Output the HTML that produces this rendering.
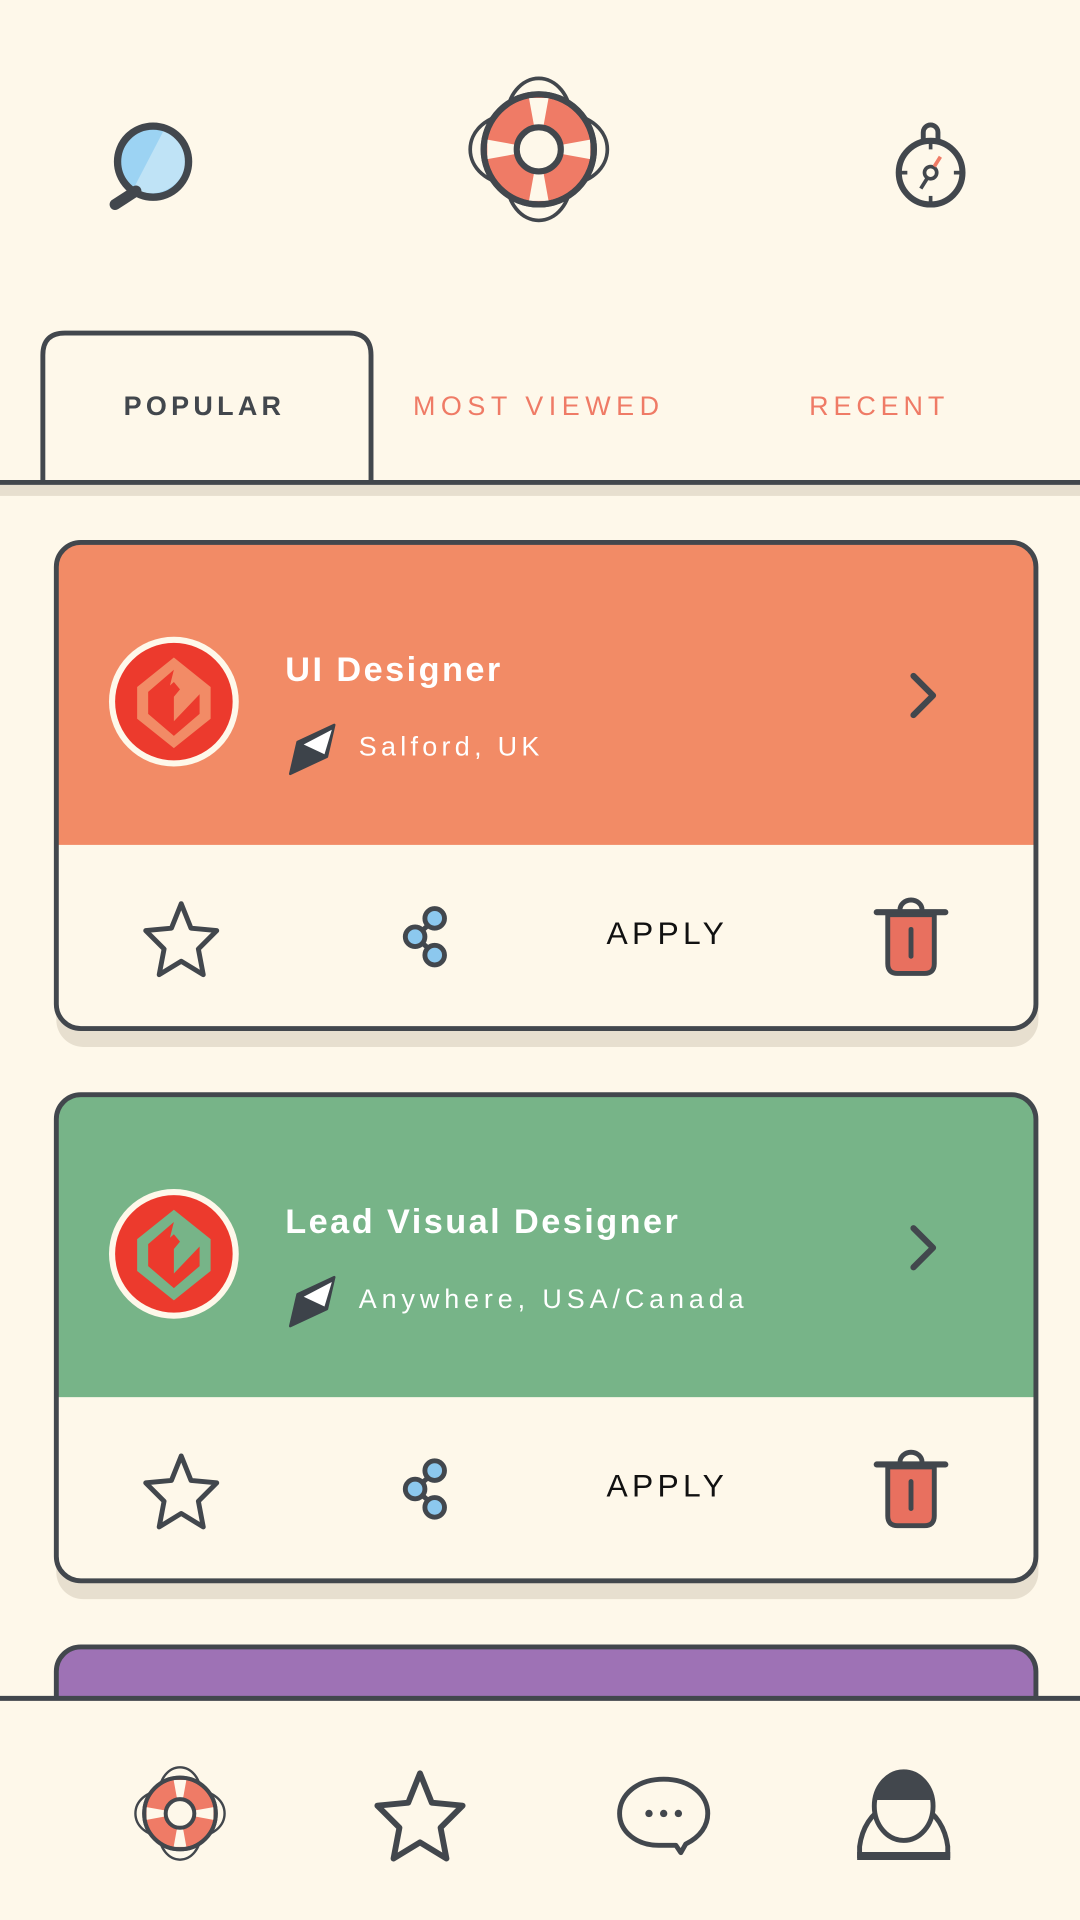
<!DOCTYPE html>
<html><head><meta charset="utf-8"><style>
html,body{margin:0;padding:0;background:#fef8ea;}
svg{display:block}
text{font-family:"Liberation Sans",sans-serif;}
</style></head><body>
<svg width="1080" height="1920" viewBox="0 0 882 1568" xmlns="http://www.w3.org/2000/svg">
<defs>
<g id="buoy">
 <ellipse cx="0" cy="-26" rx="26" ry="32" fill="none" stroke="#42474d" stroke-width="3"/>
 <ellipse cx="0" cy="26" rx="26" ry="32" fill="none" stroke="#42474d" stroke-width="3"/>
 <ellipse cx="-24" cy="0" rx="32" ry="28" fill="none" stroke="#42474d" stroke-width="3"/>
 <ellipse cx="24" cy="0" rx="32" ry="28" fill="none" stroke="#42474d" stroke-width="3"/>
 <circle r="45" fill="#ef7b66" stroke="#42474d" stroke-width="5"/>
 <path d="M-8,-42 L8,-42 L4,-20 L-4,-20Z M-8,42 L8,42 L4,20 L-4,20Z M-42,-8 L-42,8 L-20,4 L-20,-4Z M42,-8 L42,8 L20,4 L20,-4Z" fill="#fef8ea"/>
 <circle r="45" fill="none" stroke="#42474d" stroke-width="5"/>
 <circle r="18" fill="#fef8ea" stroke="#42474d" stroke-width="5"/>
</g>
<g id="star">
 <path d="M0,-29 L8,-9 L29,-7 L14,8 L18,29 L0,18 L-18,29 L-14,8 L-29,-7 L-8,-9Z" fill="none" stroke="#42474d" stroke-width="4" stroke-linejoin="round"/>
</g>
<g id="share">
 <line x1="8" y1="-14" x2="-8" y2="0" stroke="#42474d" stroke-width="4"/>
 <line x1="-8" y1="0" x2="8" y2="14" stroke="#42474d" stroke-width="4"/>
 <circle cx="8" cy="-15" r="8" fill="#8cc8ee" stroke="#42474d" stroke-width="4"/>
 <circle cx="-8" cy="0" r="8" fill="#8cc8ee" stroke="#42474d" stroke-width="4"/>
 <circle cx="8" cy="15" r="8" fill="#8cc8ee" stroke="#42474d" stroke-width="4"/>
</g>
<g id="trash">
 <path d="M-9,-24 a9,8 0 0 1 18,0" fill="none" stroke="#42474d" stroke-width="4"/>
 <line x1="-28" y1="-22" x2="28" y2="-22" stroke="#42474d" stroke-width="5" stroke-linecap="round"/>
 <path d="M-19,-20 L19,-20 L19,20 Q19,28 11,28 L-11,28 Q-19,28 -19,20Z" fill="#e8705f" stroke="#42474d" stroke-width="4"/>
 <line x1="0" y1="-8" x2="0" y2="14" stroke="#42474d" stroke-width="4" stroke-linecap="round"/>
</g>
<g id="loc">
 <path d="M-18,20 L-12,-6 L18,-20 L12,6 Z" fill="#3d434a" stroke="#3d434a" stroke-width="2" stroke-linejoin="round"/>
 <path d="M-7,-4 L16,-16 L10,4 Z" fill="#fff"/>
</g>
</defs>

<!-- header icons -->
<circle cx="125" cy="132" r="29" fill="#9cd3f3"/>
<path d="M134,106 L109,154 A29,29 0 0 0 152,134 A29,29 0 0 0 134,106Z" fill="#bfe3f6"/>
<circle cx="125" cy="132" r="29" fill="none" stroke="#42474d" stroke-width="6"/>
<line x1="111" y1="156" x2="94" y2="167" stroke="#42474d" stroke-width="9" stroke-linecap="round"/>

<use href="#buoy" x="440" y="122"/>

<circle cx="760" cy="141" r="26" fill="none" stroke="#42474d" stroke-width="5"/>
<path d="M754,116 L754,108 a6,6 0 0 1 12,0 L766,116" fill="none" stroke="#42474d" stroke-width="4"/>
<line x1="760" y1="115" x2="760" y2="122" stroke="#42474d" stroke-width="3"/>
<line x1="760" y1="160" x2="760" y2="167" stroke="#42474d" stroke-width="3"/>
<line x1="734" y1="141" x2="741" y2="141" stroke="#42474d" stroke-width="3"/>
<line x1="779" y1="141" x2="786" y2="141" stroke="#42474d" stroke-width="3"/>
<circle cx="760" cy="141" r="5" fill="none" stroke="#42474d" stroke-width="3"/>
<line x1="763" y1="136" x2="768" y2="128" stroke="#ef7b66" stroke-width="3"/>
<line x1="757" y1="146" x2="752" y2="154" stroke="#42474d" stroke-width="3"/>

<!-- tabs -->
<rect x="0" y="396" width="882" height="9" fill="#e7dfcf"/>
<path d="M35,394 L35,290 Q35,272 53,272 L285,272 Q303,272 303,290 L303,394" fill="#fef8ea" stroke="#42474d" stroke-width="4"/>
<line x1="0" y1="394" x2="882" y2="394" stroke="#42474d" stroke-width="4"/>
<text x="167" y="339" text-anchor="middle" font-size="22" font-weight="bold" fill="#42474d" letter-spacing="3.5">POPULAR</text>
<text x="440" y="339" text-anchor="middle" font-size="22" fill="#ef7b66" letter-spacing="4.5">MOST VIEWED</text>
<text x="718" y="339" text-anchor="middle" font-size="22" fill="#ef7b66" letter-spacing="4">RECENT</text>

<!-- card 1 -->
<rect x="46" y="457" width="802" height="398" rx="22" fill="#e7dfcf"/>
<clipPath id="c1"><rect x="46" y="443" width="800" height="397" rx="20"/></clipPath>
<g clip-path="url(#c1)">
<rect x="46" y="443" width="800" height="397" fill="#fef8ea"/>
<rect x="46" y="443" width="800" height="247" fill="#f28b66"/>
</g>
<rect x="46" y="443" width="800" height="397" rx="20" fill="none" stroke="#42474d" stroke-width="4"/>
<g transform="translate(142,573)">
 <circle r="53" fill="#fef8ea"/><circle r="48" fill="#ec3a2d"/>
 <path d="M0,-36 L-30,-12 L-30,14 L0,38 L30,14 L30,-12 Z" fill="#f28b66"/>
 <path d="M0,-26 L-21,-8 L-21,10 L0,28 L21,10 L21,-6 L0,16 L0,-4 L5,-10 L0,-16 L-9,-8 L-9,10" fill="#ec3a2d"/>
</g>
<text x="233" y="556" font-size="28" font-weight="bold" fill="#fff" letter-spacing="2">UI Designer</text>
<use href="#loc" x="255" y="612"/>
<text x="293" y="617" font-size="22" fill="#fff" letter-spacing="3.5">Salford, UK</text>
<path d="M746,552 L762,568 L746,584" fill="none" stroke="#42474d" stroke-width="5" stroke-linecap="round" stroke-linejoin="round"/>
<use href="#star" x="148" y="767"/>
<use href="#share" x="347" y="765"/>
<text x="545" y="771" text-anchor="middle" font-size="26" fill="#111" letter-spacing="3.5">APPLY</text>
<use href="#trash" x="744" y="767"/>

<!-- card 2 -->
<rect x="46" y="908" width="802" height="398" rx="22" fill="#e7dfcf"/>
<clipPath id="c2"><rect x="46" y="894" width="800" height="397" rx="20"/></clipPath>
<g clip-path="url(#c2)">
<rect x="46" y="894" width="800" height="397" fill="#fef8ea"/>
<rect x="46" y="894" width="800" height="247" fill="#77b488"/>
</g>
<rect x="46" y="894" width="800" height="397" rx="20" fill="none" stroke="#42474d" stroke-width="4"/>
<g transform="translate(142,1024)">
 <circle r="53" fill="#fef8ea"/><circle r="48" fill="#ec3a2d"/>
 <path d="M0,-36 L-30,-12 L-30,14 L0,38 L30,14 L30,-12 Z" fill="#77b488"/>
 <path d="M0,-26 L-21,-8 L-21,10 L0,28 L21,10 L21,-6 L0,16 L0,-4 L5,-10 L0,-16 L-9,-8 L-9,10" fill="#ec3a2d"/>
</g>
<text x="233" y="1007" font-size="28" font-weight="bold" fill="#fff" letter-spacing="2">Lead Visual Designer</text>
<use href="#loc" x="255" y="1063"/>
<text x="293" y="1068" font-size="22" fill="#fff" letter-spacing="4">Anywhere, USA/Canada</text>
<path d="M746,1003 L762,1019 L746,1035" fill="none" stroke="#42474d" stroke-width="5" stroke-linecap="round" stroke-linejoin="round"/>
<use href="#star" x="148" y="1218"/>
<use href="#share" x="347" y="1216"/>
<text x="545" y="1222" text-anchor="middle" font-size="26" fill="#111" letter-spacing="3.5">APPLY</text>
<use href="#trash" x="744" y="1218"/>

<!-- card 3 -->
<rect x="46" y="1345" width="800" height="120" rx="20" fill="#9e72b5" stroke="#42474d" stroke-width="4"/>

<!-- bottom bar -->
<rect x="0" y="1387" width="882" height="181" fill="#fef8ea"/>
<line x1="0" y1="1387" x2="882" y2="1387" stroke="#42474d" stroke-width="4"/>
<g transform="translate(147,1481) scale(0.65)"><use href="#buoy"/></g>
<g transform="translate(343,1483) scale(1.2)"><use href="#star"/></g>
<path d="M542,1453 C520,1453 506,1466 506,1481 C506,1496 520,1507 538,1507 L552,1507 L556,1513 L560,1506 C572,1500 578,1491 578,1481 C578,1466 564,1453 542,1453Z" fill="none" stroke="#42474d" stroke-width="4" stroke-linejoin="round"/>
<circle cx="530" cy="1481" r="3" fill="#42474d"/><circle cx="542" cy="1481" r="3" fill="#42474d"/><circle cx="554" cy="1481" r="3" fill="#42474d"/>
<path d="M702,1517 L702,1508 Q705,1485 724,1474 L752,1474 Q771,1485 774,1508 L774,1517 Z" fill="none" stroke="#42474d" stroke-width="4"/>
<line x1="700" y1="1515" x2="776" y2="1515" stroke="#42474d" stroke-width="5"/>
<ellipse cx="738" cy="1475" rx="24" ry="28" fill="#fef8ea" stroke="#42474d" stroke-width="4"/>
<path d="M714,1470 Q716,1447 738,1447 Q760,1447 762,1470 Z" fill="#42474d"/>
</svg>
</body></html>
